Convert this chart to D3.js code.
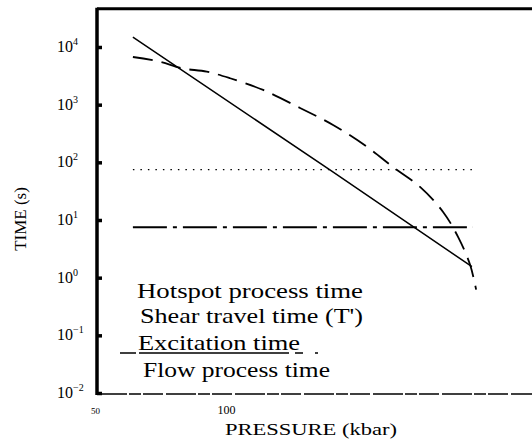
<!DOCTYPE html>
<html>
<head>
<meta charset="utf-8">
<script src="https://cdn.jsdelivr.net/npm/d3@7"></script>
<style>
  html, body { margin: 0; padding: 0; background: #fff; }
  svg { display: block; }
  text { font-family: "Liberation Serif", "DejaVu Serif", serif; fill: #000; }
</style>
</head>
<body>
<script>
// ---- data ----
const pressureTicks = [50, 100];
const timeTicks = [1e4, 1e3, 1e2, 1e1, 1e0, 1e-1, 1e-2];
const timeTickExponents = ["4", "3", "2", "1", "0", "\u22121", "\u22122"];

// solid (straight) curve
const solidPressure = [63.7, 138.9, 193.1];
const solidTime = [14800, 74, 1.55];

// long-dashed curve
const dashedPressure = [63.7, 74.0, 82.3, 91.9, 100.8, 113.4, 127.5, 140.1, 153.1, 163.0, 173.3, 182.1, 187.8, 192.4, 194.7];
const dashedTime = [6710, 5560, 4280, 3730, 2870, 1800, 877, 445, 185, 83, 37.5, 13.8, 5.1, 1.67, 0.62];

// horizontal levels
const levelPressure = [63.7, 193.5];
const dottedLevel = 75;
const dashDotLevel = 7.5;

const legendLabels = ["Hotspot process time", "Shear travel time (T')", "Excitation time", "Flow process time"];
const xTitle = "PRESSURE (kbar)";
const yTitle = "TIME (s)";

// ---- layout ----
const W = 532, H = 447;
const svg = d3.select("body").append("svg").attr("width", W).attr("height", H);

const x = d3.scaleLinear().domain([50, 100]).range([97, 228]);
const y = d3.scaleLog().domain([1e-2, 1e4]).range([393, 47]);
const yTopValue = 4.6e4;

const line = d3.line().x(d => x(d[0])).y(d => y(d[1]));

// frame: top line
svg.append("line")
  .attr("x1", x(50)).attr("x2", W)
  .attr("y1", y(yTopValue)).attr("y2", y(yTopValue))
  .attr("stroke", "#000").attr("stroke-width", 3);

// bottom axis
const xAxis = d3.axisBottom(x).tickValues(pressureTicks).tickSize(0).tickFormat(d3.format("d"));
const gx = svg.append("g").attr("transform", `translate(0,${y(1e-2) + 1})`).call(xAxis);
gx.select(".domain").remove();
gx.append("line").attr("x1", x(50)).attr("x2", W).attr("y1", 0).attr("y2", 0)
  .attr("stroke", "#000").attr("stroke-width", 1.6).attr("stroke-dasharray", "30,2,12,2,20,3");
gx.selectAll(".tick text")
  .attr("dy", null).attr("y", 20)
  .style("font-family", "Liberation Serif, serif")
  .style("font-size", d => d === 50 ? "9px" : "12px")
  .attr("fill", d => d === 50 ? "#666" : "#000")
  .attr("dx", -2);

// left axis
const yAxis = d3.axisLeft(y).tickValues(timeTicks).tickSizeInner(-5).tickSizeOuter(0).tickFormat("");
const gy = svg.append("g").attr("transform", `translate(${x(50)},0)`).call(yAxis);
gy.select(".domain").remove();
gy.append("line").attr("x1", 0).attr("x2", 0)
  .attr("y1", y(yTopValue) - 1).attr("y2", y(1e-2) + 2)
  .attr("stroke", "#000").attr("stroke-width", 3.5);
gy.selectAll(".tick line").attr("stroke", "#000").attr("stroke-width", 3.5);

// y tick labels with superscripts
const ylab = svg.append("g");
timeTicks.forEach((t, i) => {
  const txt = ylab.append("text")
    .attr("x", 57).attr("y", y(t) + 5)
    .style("font-size", "16px");
  txt.append("tspan").text("10");
  txt.append("tspan").attr("dy", -7).style("font-size", "10px").text(timeTickExponents[i]);
});

// axis titles
svg.append("text")
  .attr("transform", `translate(26,${y(10) - 1}) rotate(-90)`)
  .attr("text-anchor", "middle")
  .style("font-size", "17px")
  .text(yTitle);

svg.append("text")
  .attr("x", 225).attr("y", 435)
  .attr("textLength", 172).attr("lengthAdjust", "spacingAndGlyphs")
  .style("font-size", "16px")
  .text(xTitle);

// horizontal level lines
svg.append("path")
  .datum(levelPressure.map(p => [p, dottedLevel]))
  .attr("d", line).attr("fill", "none")
  .attr("stroke", "#000").attr("stroke-width", 1.3)
  .attr("stroke-dasharray", "1.5,6");

svg.append("path")
  .datum(levelPressure.map(p => [p, dashDotLevel]))
  .attr("d", line).attr("fill", "none")
  .attr("stroke", "#000").attr("stroke-width", 2)
  .attr("stroke-dasharray", "34,6,4,6");

// solid curve
svg.append("path")
  .datum(solidPressure.map((p, i) => [p, solidTime[i]]))
  .attr("d", line).attr("fill", "none")
  .attr("stroke", "#000").attr("stroke-width", 1.5);

// dashed curve
svg.append("path")
  .datum(dashedPressure.map((p, i) => [p, dashedTime[i]]))
  .attr("d", d3.line().x(d => x(d[0])).y(d => y(d[1])).curve(d3.curveCatmullRom))
  .attr("fill", "none")
  .attr("stroke", "#000").attr("stroke-width", 1.8)
  .attr("stroke-dasharray", "20,9");

// legend text
const legendBaselines = [298, 323, 350, 377];
const legendX = [137, 140, 138, 143];
const legendWidths = [226, 223, 162, 187];
legendLabels.forEach((s, i) => {
  svg.append("text")
    .attr("x", legendX[i]).attr("y", legendBaselines[i])
    .attr("textLength", legendWidths[i]).attr("lengthAdjust", "spacingAndGlyphs")
    .style("font-size", "22px")
    .text(s);
});
// underline of third legend entry
svg.append("line")
  .attr("x1", 120).attr("x2", 322)
  .attr("y1", 353).attr("y2", 353)
  .attr("stroke", "#000").attr("stroke-width", 1.6)
  .attr("stroke-dasharray", "16,3,150,6,8,12,3");
</script>
</body>
</html>
